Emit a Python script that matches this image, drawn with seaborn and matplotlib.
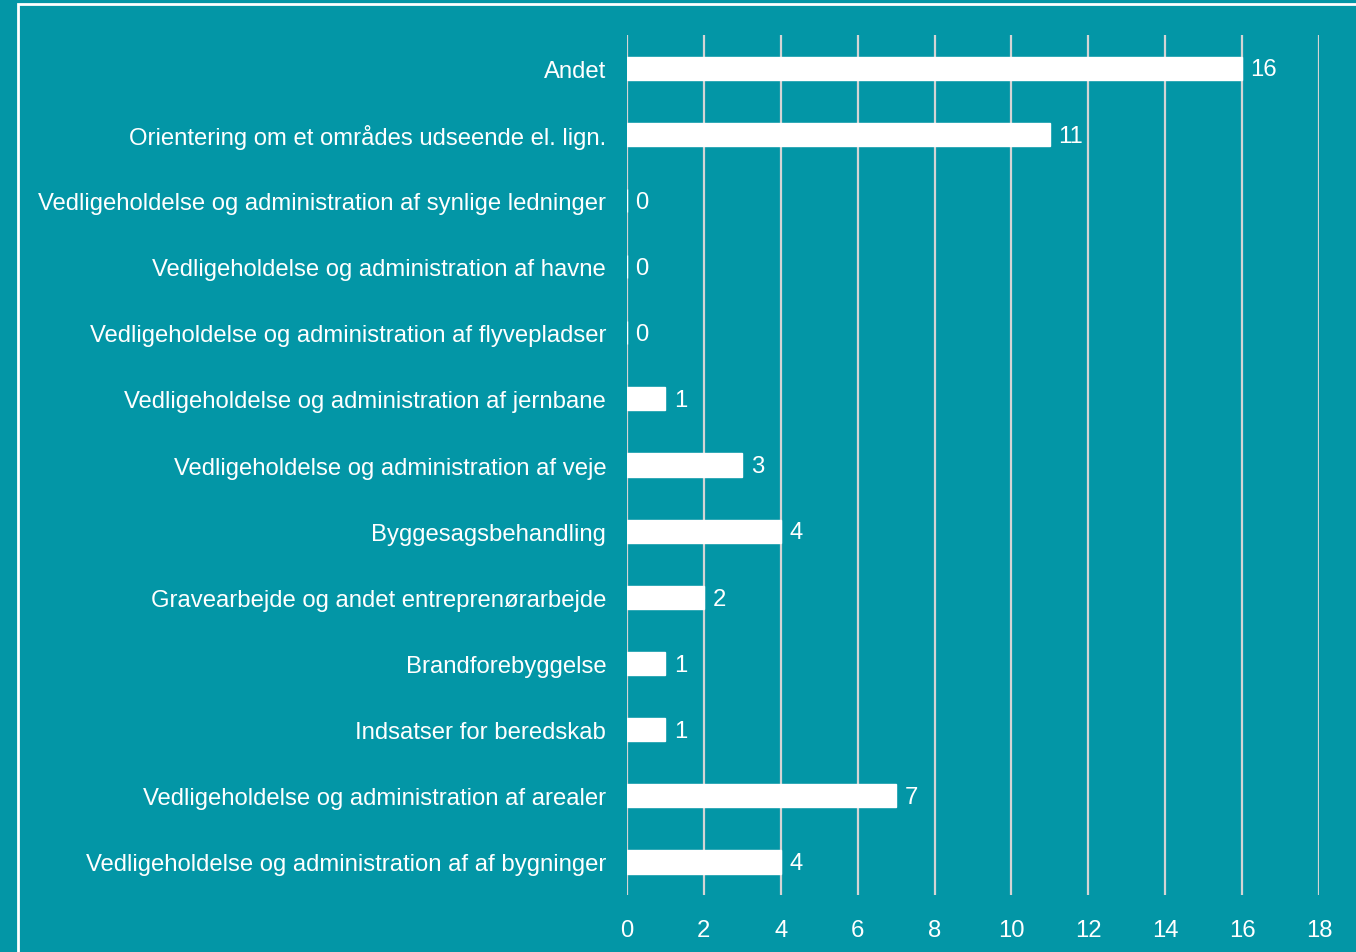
import matplotlib
matplotlib.use("Agg")
import matplotlib.pyplot as plt
import seaborn as sns
import pandas as pd
from matplotlib.patches import Rectangle

categories = [
    "Andet",
    "Orientering om et områdes udseende el. lign.",
    "Vedligeholdelse og administration af synlige ledninger",
    "Vedligeholdelse og administration af havne",
    "Vedligeholdelse og administration af flyvepladser",
    "Vedligeholdelse og administration af jernbane",
    "Vedligeholdelse og administration af veje",
    "Byggesagsbehandling",
    "Gravearbejde og andet entreprenørarbejde",
    "Brandforebyggelse",
    "Indsatser for beredskab",
    "Vedligeholdelse og administration af arealer",
    "Vedligeholdelse og administration af af bygninger",
]
values = [16, 11, 0, 0, 0, 1, 3, 4, 2, 1, 1, 7, 4]
x_ticks = [0, 2, 4, 6, 8, 10, 12, 14, 16, 18]

BG = "#0396A6"
sns.set_theme(style="white")
plt.rcParams['font.family'] = ['Liberation Sans', 'DejaVu Sans']

df = pd.DataFrame({"category": categories, "value": values})

fig = plt.figure(figsize=(13.56, 9.53), dpi=100, facecolor=BG)
ax = fig.add_axes([627/1356, 1-896/953, (1319-627)/1356, (896-36)/953])
ax.set_facecolor(BG)

sns.barplot(data=df, y="category", x="value", orient="h", color="white",
            width=0.35, saturation=1, ax=ax, zorder=3)

ax.set_xlim(0, 18)
ax.set_ylim(12.5, -0.5)
ax.set_xticks(x_ticks)
ax.set_xticklabels([str(t) for t in x_ticks])
ax.xaxis.grid(True, color="#d4d4d4", linewidth=1.6, zorder=1)
ax.set_axisbelow(True)
for s in ax.spines.values():
    s.set_visible(False)
ax.tick_params(axis="both", length=0, colors="white", labelsize=17.2)
ax.tick_params(axis="y", pad=15)
ax.tick_params(axis="x", pad=17)
ax.set_xlabel("")
ax.set_ylabel("")
for lbl in ax.get_yticklabels() + ax.get_xticklabels():
    lbl.set_color("white")

for i, v in enumerate(values):
    ax.text(v + 0.22, i + 0.02, str(v), va="center", ha="left", color="white", fontsize=17.2)

# outer frame line
fig.add_artist(Rectangle((18/1356, -0.05), 1.1, 1 - 5/953 + 0.05,
                         transform=fig.transFigure, fill=False,
                         edgecolor="white", linewidth=2))

fig.savefig("out.png", dpi=100, facecolor=BG)
